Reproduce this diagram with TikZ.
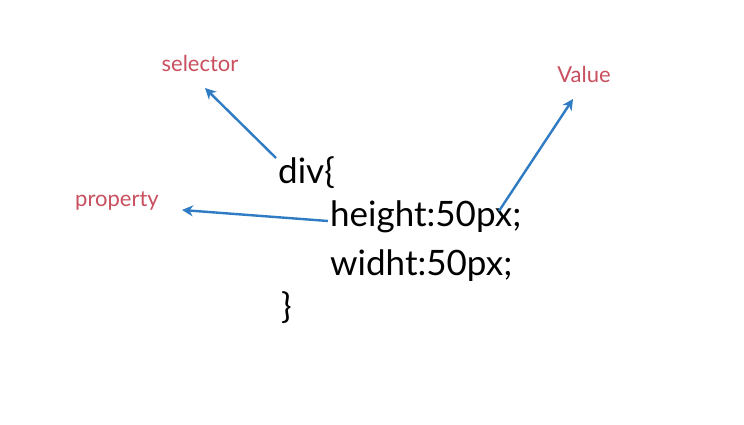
\documentclass[tikz,border=0pt]{standalone}
\usepackage{fontspec}
\setmainfont{Lato}
\usetikzlibrary{arrows.meta}

\definecolor{labelred}{HTML}{C8505F}
\definecolor{arrowblue}{HTML}{2F7BC4}

\tikzset{
  lbl/.style={text=labelred,font=\fontsize{22}{26}\selectfont},
  code/.style={anchor=west,inner sep=0pt,font=\fontsize{35}{42}\selectfont},
  arr/.style={draw=arrowblue,line width=2.4pt,-{Stealth[length=11pt,width=11pt]}}
}

\begin{document}
\begin{tikzpicture}[x=1pt,y=-1pt]
  \useasboundingbox[fill=white] (0,0) rectangle (744,425);
  % labels
  \node[lbl] (sel) at (200,63) {selector};
  \node[lbl] (prop) at (117,201) {property};
  \node[lbl] (val) at (584,74) {Value};
  % code
  \node[code] (div) at (278,173) {div\{};
  \node[code] (hgt) at (330,217) {height:50px;};
  \node[code] (wid) at (330,266) {widht:50px;};
  \node[code] (cls) at (281,308) {\}};
  % arrows
  \coordinate (selstart) at (276,158);
  \coordinate (selend) at (205,88);
  \coordinate (propend) at (182,210);
  \coordinate (valstart) at (499,211);
  \coordinate (valend) at (573,99);
  \draw[arr] (selstart) -- (selend);
  \draw[arr] ([xshift=-2pt,yshift=-4pt]hgt.west) -- (propend);
  \draw[arr] (valstart) -- (valend);
\end{tikzpicture}
\end{document}
